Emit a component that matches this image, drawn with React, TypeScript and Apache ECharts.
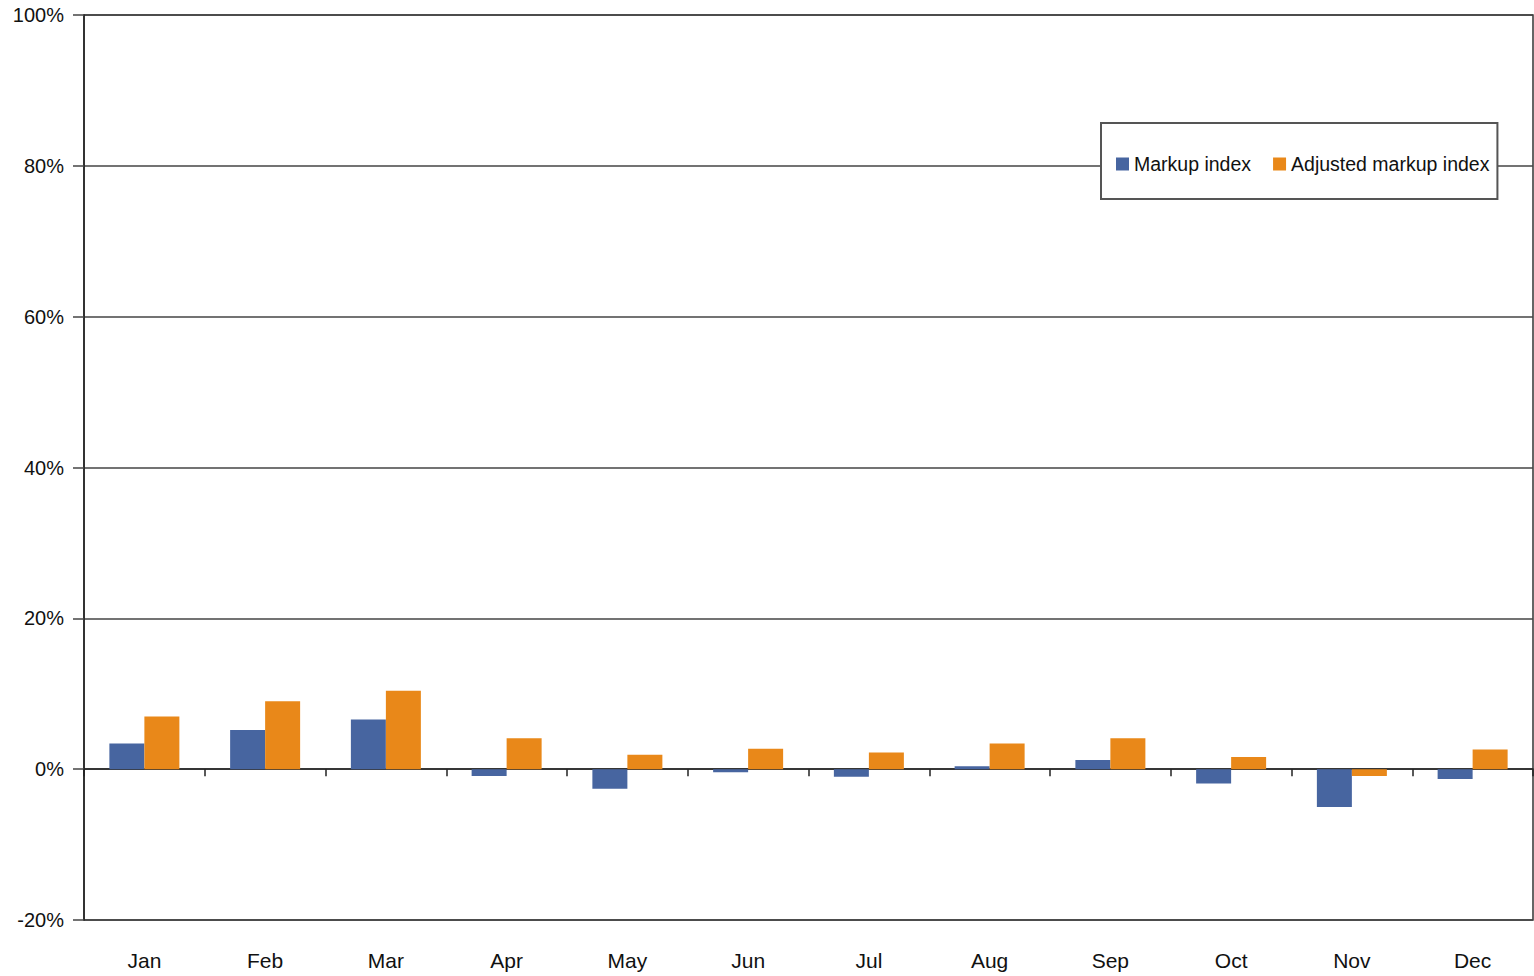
import React, { useEffect, useRef } from "react";
import * as echarts from "echarts";

const months = ["Jan", "Feb", "Mar", "Apr", "May", "Jun", "Jul", "Aug", "Sep", "Oct", "Nov", "Dec"];
const markupIndex = [3.4, 5.2, 6.6, -0.9, -2.6, -0.4, -1.0, 0.4, 1.2, -1.9, -5.0, -1.3];
const adjustedMarkupIndex = [7.0, 9.0, 10.4, 4.1, 1.9, 2.7, 2.2, 3.4, 4.1, 1.6, -0.9, 2.6];
const seriesNames = ["Markup index", "Adjusted markup index"];

const FONT = "'Liberation Sans Narrow', 'Liberation Sans', Arial, sans-serif";

export default function App() {
  const ref = useRef<HTMLDivElement>(null);
  useEffect(() => {
    document.body.style.margin = "0";
    const chart = echarts.init(ref.current!, null, { renderer: "svg" });
    chart.setOption({
      animation: false,
      backgroundColor: "#fff",
      grid: {
        left: 84,
        right: 1,
        top: 15,
        bottom: 56,
        show: true,
        borderColor: "#333",
        borderWidth: 1.5,
      },
      legend: {
        left: 1101,
        top: 123,
        data: seriesNames,
        icon: "rect",
        itemWidth: 13,
        itemHeight: 13,
        itemGap: 22,
        borderColor: "#555",
        borderWidth: 2,
        backgroundColor: "#fff",
        padding: [31, 8, 25, 15],
        textStyle: { fontFamily: FONT, fontSize: 19.5, color: "#111" },
      },
      xAxis: [
        {
          type: "category",
          data: months,
          position: "bottom",
          axisLine: { show: false, onZero: false },
          axisTick: { show: false },
          axisLabel: { fontFamily: FONT, fontSize: 21, color: "#111", margin: 30 },
        },
        {
          type: "category",
          data: months,
          position: "bottom",
          axisLine: { show: true, onZero: true, lineStyle: { color: "#222", width: 1.5 } },
          axisTick: { show: true, length: 7, lineStyle: { color: "#222", width: 1.5 } },
          axisLabel: { show: false },
        },
      ],
      yAxis: {
        type: "value",
        min: -20,
        max: 100,
        interval: 20,
        axisLine: { show: true, lineStyle: { color: "#222", width: 1.5 } },
        axisTick: { show: true, length: 11, lineStyle: { color: "#444", width: 1.5 } },
        axisLabel: {
          formatter: "{value}%",
          fontFamily: FONT,
          fontSize: 20,
          color: "#111",
          margin: 20,
        },
        splitLine: { show: true, lineStyle: { color: "#444", width: 1.5 } },
      },
      series: [
        {
          name: seriesNames[0],
          type: "bar",
          data: markupIndex,
          barWidth: 35,
          barGap: "0%",
          itemStyle: { color: "#4765A0" },
        },
        {
          name: seriesNames[1],
          type: "bar",
          data: adjustedMarkupIndex,
          barWidth: 35,
          barGap: "0%",
          itemStyle: { color: "#E98819" },
        },
      ],
    });
    return () => chart.dispose();
  }, []);
  return <div ref={ref} style={{ position: "absolute", left: 0, top: 0, width: 1534, height: 976 }} />;
}
